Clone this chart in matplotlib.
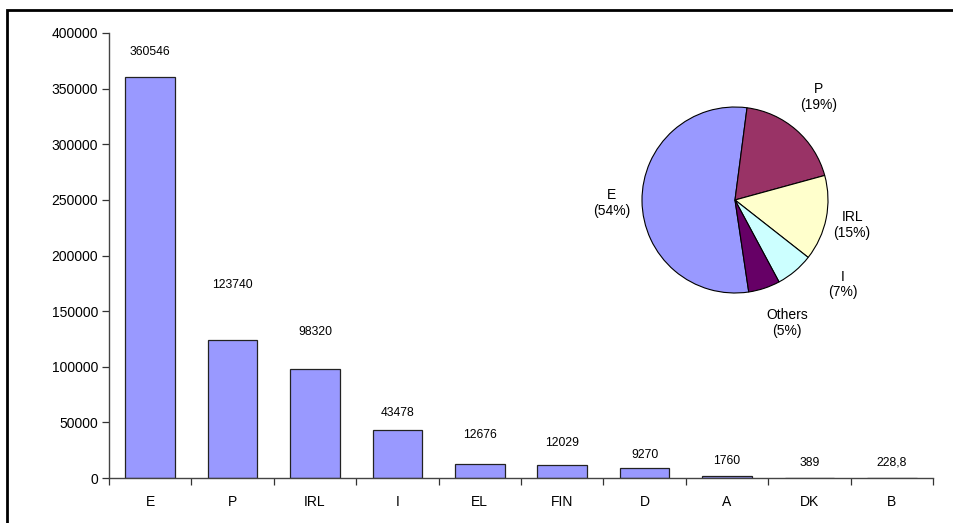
import matplotlib
matplotlib.use("Agg")
import matplotlib.pyplot as plt
from matplotlib.patches import Rectangle
from matplotlib.ticker import FixedLocator, NullFormatter

plt.rcParams['font.family'] = ['Liberation Sans', 'DejaVu Sans']

# Bar chart data
countries = ["E", "P", "IRL", "I", "EL", "FIN", "D", "A", "DK", "B"]
values = [360546, 123740, 98320, 43478, 12676, 12029, 9270, 1760, 389, 228.8]
value_labels = ["360546", "123740", "98320", "43478", "12676", "12029", "9270", "1760", "389", "228,8"]

# Pie chart groups: the four largest, the rest pooled as "Others"
pie_names = ["E", "P", "IRL", "I", "Others"]
pie_values = values[:4] + [sum(values[4:])]
pie_colors = ["#9999FF", "#993366", "#FFFFCC", "#CCFFFF", "#660066"]

# Vertical gap (pixels) between each bar top and its value label
label_gap_px = [25, 55, 37, 17, 29, 22, 13, 15, 15, 15]
# Pie label positions in pie units (radius = 1)
pie_label_pos = [(-1.33, -0.03), (0.90, 1.11), (1.26, -0.27), (1.16, -0.91), (0.56, -1.32)]

W, H = 954, 523
fig = plt.figure(figsize=(W / 100, H / 100), dpi=100)
fig.patch.set_facecolor("white")

# Outer chart frame (left and top edges visible)
fig.patches.append(Rectangle((7 / W, -0.2), 1.2, 1.2 - 10 / H + 0.0,
                             transform=fig.transFigure, fill=False,
                             edgecolor="black", linewidth=2.0, zorder=0))

ax = fig.add_axes([109 / W, 1 - 478 / H, (933 - 109) / W, (478 - 33) / H])
x = list(range(len(countries)))
ax.bar(x, values, width=0.6, color="#9999FF", edgecolor="#222222", linewidth=0.9, zorder=2)

for xi, v, lab, gap in zip(x, values, value_labels, label_gap_px):
    ax.annotate(lab, (xi, v), xytext=(0, gap), textcoords="offset pixels",
                ha="center", va="center", fontsize=8.7, color="black")

ax.set_xlim(-0.5, len(countries) - 0.5)
ax.set_ylim(0, 400000)
ax.set_yticks(range(0, 400001, 50000))
ax.set_yticklabels([str(t) for t in range(0, 400001, 50000)], fontsize=10)
ax.set_xticks(x)
ax.set_xticklabels(countries, fontsize=10)
ax.tick_params(axis="x", which="major", length=0, pad=12)
ax.xaxis.set_minor_locator(FixedLocator([i - 0.5 for i in range(len(countries) + 1)]))
ax.xaxis.set_minor_formatter(NullFormatter())
ax.tick_params(axis="x", which="minor", length=5, width=0.9, color="#333333")
ax.tick_params(axis="y", length=5, width=0.9, color="#333333", pad=3)
for side in ("top", "right"):
    ax.spines[side].set_visible(False)
for side in ("left", "bottom"):
    ax.spines[side].set_color("#444444")
    ax.spines[side].set_linewidth(1.0)
ax.set_facecolor("none")

# Inset pie chart
cx, cy, r = 735, 200, 93
pax = fig.add_axes([(cx - r) / W, 1 - (cy + r) / H, 2 * r / W, 2 * r / H])
pax.pie(pie_values, colors=pie_colors, startangle=-81.5, counterclock=False,
        radius=1, wedgeprops=dict(edgecolor="black", linewidth=0.8))
pax.set_xlim(-1, 1)
pax.set_ylim(-1, 1)
pax.axis("off")
total = sum(pie_values)
for name, val, (lx, ly) in zip(pie_names, pie_values, pie_label_pos):
    pax.text(lx, ly, f"{name}\n({round(100 * val / total):.0f}%)", ha="center", va="center",
             fontsize=10, linespacing=1.15, clip_on=False)

fig.savefig("out.png", dpi=100)
